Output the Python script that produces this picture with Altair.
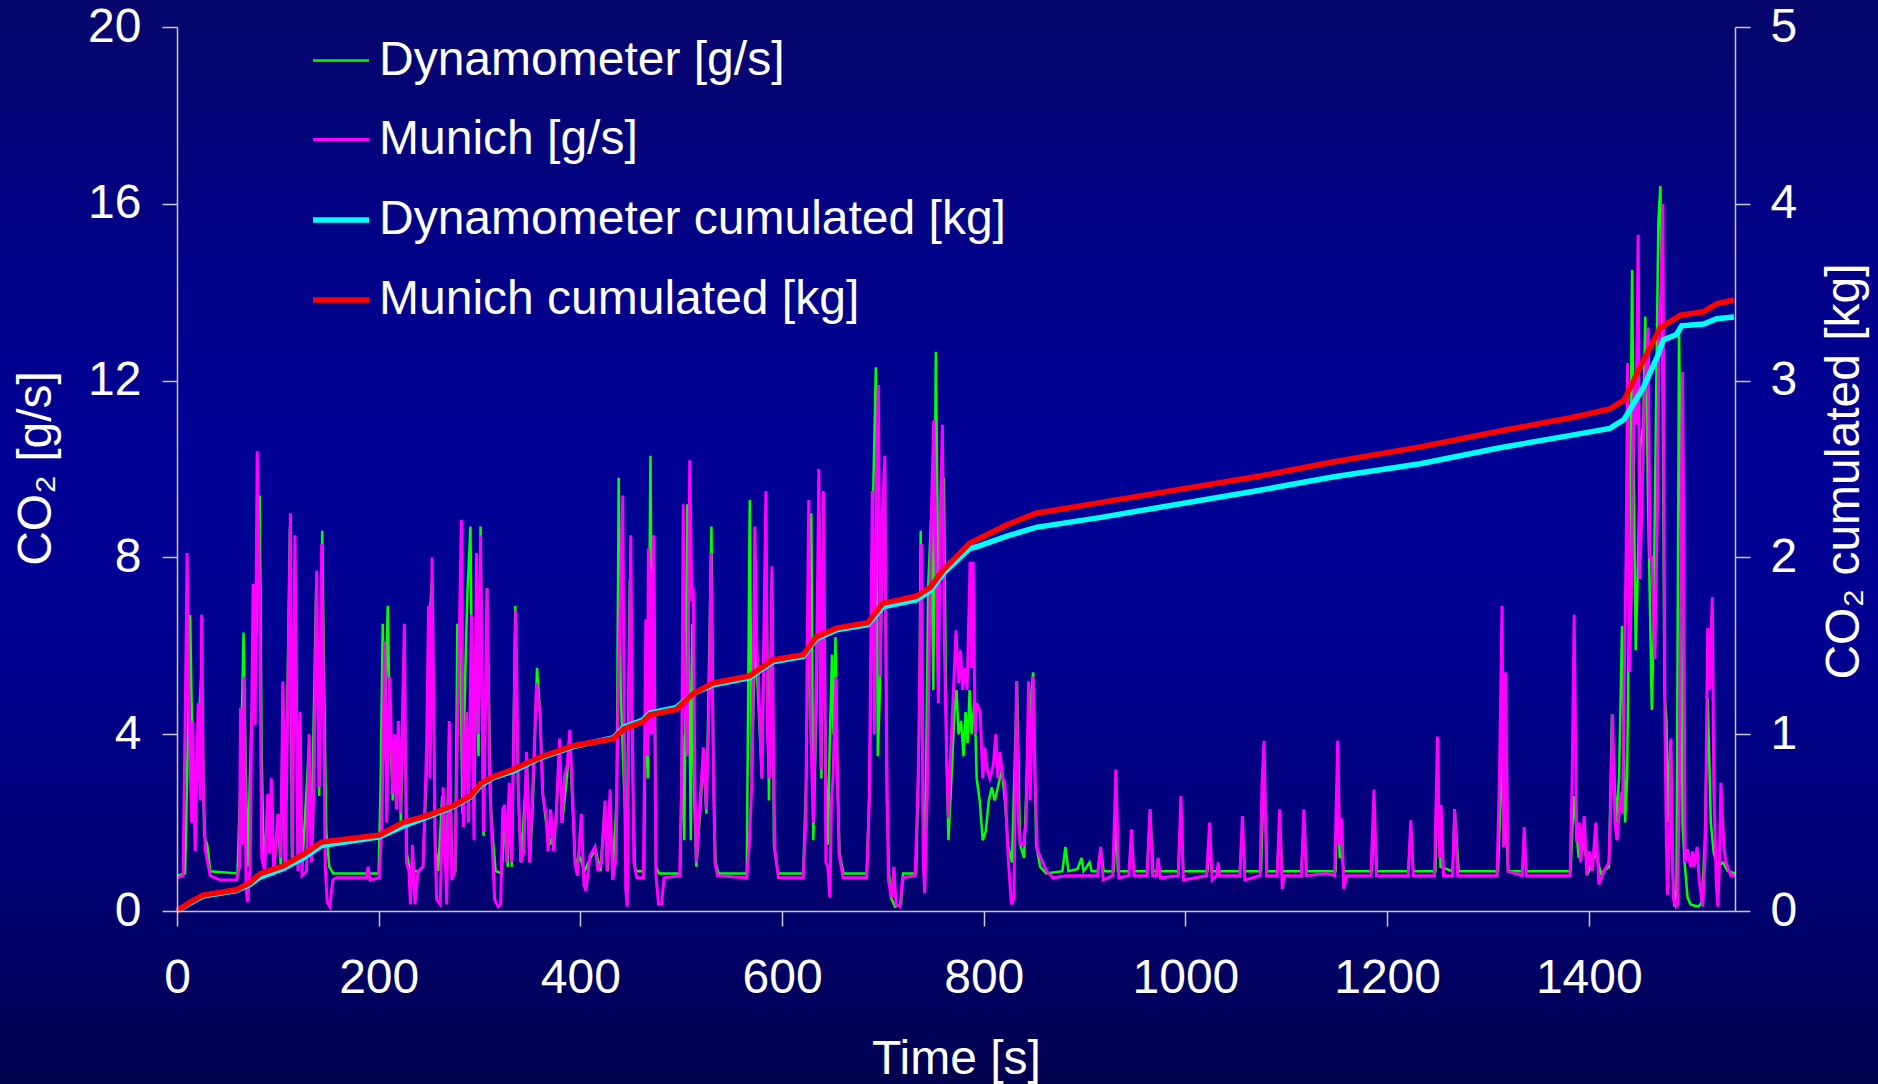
import altair as alt
import pandas as pd

# ---- axis settings -------------------------------------------------------
TIME_DOMAIN = [0, 1545]
TIME_TICKS = [0, 200, 400, 600, 800, 1000, 1200, 1400]
RATE_DOMAIN = [0, 20]
RATE_TICKS = [0, 4, 8, 12, 16, 20]
CUM_DOMAIN = [0, 5]
CUM_TICKS = [0, 1, 2, 3, 4, 5]

SERIES = [
    "Dynamometer [g/s]",
    "Munich [g/s]",
    "Dynamometer cumulated [kg]",
    "Munich cumulated [kg]",
]
COLORS = ["#00ff00", "#ff00ff", "#00ffff", "#ff0000"]
LINE_WIDTHS = [2.5, 3, 5.5, 5.5]

# ---- CO2 mass flow, (time [s], g/s) --------------------------------------
DYNO_RATE = [
    (0, 0.8), (8, 0.85), (10, 3.0), (13, 6.7), (15, 4.0), (17, 2.0), (20, 3.0), (22, 4.5),
    (24.5, 5.5), (27, 1.7), (30, 1.5), (33, 0.9), (60, 0.85), (63, 3.0), (66, 6.3), (68, 3.5),
    (70, 1.0), (74, 4.5), (77, 4.5), (82, 9.4), (84, 3.5), (86, 1.0), (90, 2.3), (92, 1.3),
    (94, 2.8), (96, 0.9), (100, 2.0), (103, 1.0), (105, 5.0), (107, 1.0), (112, 8.7), (114, 1.2),
    (117, 8.0), (120, 1.0), (122, 4.3), (124, 0.9), (131, 3.8), (133, 1.2), (138, 7.3), (141, 2.6),
    (144, 8.6), (146, 5.0), (148, 1.8), (151, 1.0), (155, 0.85), (200, 0.85), (202, 3.0), (204, 6.5),
    (206, 4.0), (209, 6.9), (211, 4.2), (214, 2.5), (216, 3.8), (218, 2.3), (220, 4.0), (222, 2.0),
    (225, 5.8), (228, 1.3), (231, 0.9), (240, 0.9), (244, 1.0), (248, 3.5), (250, 6.5), (253, 7.5),
    (256, 1.5), (259, 0.9), (263, 2.6), (267, 0.9), (270, 4.0), (273, 0.9), (276, 0.9), (278, 6.5),
    (281, 6.0), (283, 2.2), (286, 5.5), (288, 7.2), (291, 8.7), (293, 4.0), (296, 6.0), (299, 3.5),
    (301, 8.7), (304, 1.7), (307.5, 7.3), (311, 2.5), (313, 1.7), (316, 0.9), (322, 0.85), (325, 2.0),
    (328, 1.0), (330, 2.7), (332, 1.0), (335.5, 6.9), (338, 3.0), (341, 1.1), (347, 3.3), (350, 1.1),
    (353, 2.5), (357, 5.5), (360, 4.5), (363, 2.6), (366, 2.0), (370, 1.5), (376, 2.0), (379, 3.6),
    (382, 2.0), (387, 3.1), (389.5, 3.9), (392, 2.5), (395, 1.1), (400, 1.2), (404, 0.9), (410, 1.2),
    (415, 1.4), (420, 0.9), (424, 2.3), (427, 0.9), (429, 2.5), (432, 0.9), (436, 2.5), (438, 9.8),
    (440, 5.0), (443, 3.0), (446, 1.2), (449, 7.5), (452, 3.0), (454, 1.0), (456, 0.9), (463, 0.9),
    (465, 5.0), (467, 3.0), (469.5, 10.3), (471, 5.0), (473, 7.5), (475, 1.0), (478, 0.85), (499, 0.85),
    (501, 4.0), (503, 1.6), (506, 9.2), (508, 5.0), (509.5, 1.6), (511, 6.5), (513, 2.5), (515, 1.0),
    (519, 2.3), (522, 3.5), (525, 2.2), (530, 8.7), (532, 3.0), (534, 1.1), (537, 0.85), (565, 0.85),
    (568, 9.3), (570, 3.0), (573, 6.0), (576, 5.0), (580, 3.0), (584, 8.8), (587, 2.5), (590, 7.5),
    (592, 1.5), (596, 0.85), (621, 0.85), (624, 3.0), (627, 8.0), (629, 9.0), (631, 1.6), (634, 4.5),
    (637, 9.0), (639, 3.0), (641, 9.0), (643, 3.5), (645.5, 1.5), (647, 3.5), (649.5, 5.8), (651, 4.0),
    (653, 6.2), (655, 3.0), (657, 1.3), (661, 0.85), (684, 0.85), (687, 3.0), (690, 9.0), (693, 12.3),
    (695, 3.5), (697, 5.0), (700, 8.5), (702, 9.5), (704, 2.5), (706, 0.9), (708, 0.3), (712, 0.1),
    (718, 0.15), (720, 0.85), (733, 0.85), (736, 4.0), (737.5, 8.6), (740, 2.0), (742, 1.5), (745, 7.4),
    (748, 9.0), (750, 5.0), (752.5, 12.65), (755, 7.0), (758, 9.5), (760.5, 9.8), (763, 3.7), (765, 1.6),
    (768, 3.0), (771, 4.5), (773, 5.0), (775, 4.0), (777.5, 4.3), (780, 3.5), (782, 4.5), (784, 3.8),
    (786, 5.0), (788, 4.0), (791, 4.8), (793, 3.0), (796, 2.5), (799, 1.6), (802, 1.8), (805, 2.5),
    (808, 2.8), (811, 2.5), (814, 2.8), (818, 3.2), (821, 2.5), (824, 1.5), (828, 1.1), (833, 5.2),
    (836, 1.5), (840, 1.2), (844, 4.0), (849, 5.4), (852, 1.5), (856, 1.0), (862, 0.85), (878, 0.9),
    (881, 1.45), (884, 0.9), (893, 0.95), (897, 1.2), (899, 0.9), (905, 1.1), (907, 0.9), (913, 0.9),
    (916, 1.4), (919, 0.9), (929, 0.9), (931, 2.3), (933, 0.9), (944, 0.9), (946.5, 1.6), (949, 0.9),
    (962, 0.9), (965, 2.3), (968, 0.9), (993, 0.9), (995.5, 2.2), (998, 0.9), (1022, 0.9), (1024, 1.6),
    (1026, 0.9), (1054, 0.9), (1056.5, 1.8), (1059, 0.9), (1075, 0.9), (1078, 3.4), (1081, 0.9),
    (1091, 0.9), (1093.5, 2.0), (1096, 0.9), (1115, 0.9), (1117.5, 2.0), (1120, 0.9), (1149, 0.9),
    (1151, 3.4), (1153, 1.2), (1155, 1.3), (1157, 0.9), (1185, 0.9), (1187, 2.2), (1190, 0.9),
    (1221, 0.9), (1223.5, 1.8), (1226, 0.9), (1248, 0.9), (1250, 3.5), (1253, 1.0), (1265, 0.9),
    (1267, 2.3), (1271, 0.9), (1310, 0.9), (1314, 3.5), (1316, 1.5), (1318, 2.0), (1320, 0.9),
    (1334, 0.9), (1336, 1.5), (1338, 0.9), (1382, 0.9), (1385, 2.6), (1390, 1.2), (1395, 1.5),
    (1400, 0.9), (1407, 1.3), (1412, 0.85), (1420, 1.0), (1423, 4.45), (1427, 2.0), (1430, 3.0),
    (1433, 6.45), (1436, 2.0), (1438, 3.0), (1440, 7.0), (1443, 14.5), (1445, 9.0), (1446.5, 5.9),
    (1449, 8.0), (1451, 10.5), (1454, 11.0), (1456, 13.45), (1459, 9.0), (1462.5, 4.55), (1464, 6.0),
    (1467, 12.0), (1469, 15.6), (1471, 16.4), (1473, 13.0), (1475, 5.0), (1477, 4.3), (1479, 2.0),
    (1481, 3.85), (1483, 1.0), (1485, 0.1), (1487, 0.5), (1489.5, 13.2), (1491, 10.0), (1493, 2.0),
    (1495, 1.1), (1498, 0.3), (1501, 0.15), (1505, 0.12), (1509, 0.1), (1512, 0.2), (1515, 1.5),
    (1518, 4.8), (1521, 2.0), (1524, 1.3), (1528, 1.0), (1533, 1.1), (1538, 0.9), (1545, 0.85),
]

MUNICH_RATE = [
    (0, 0.75), (6, 0.8), (8.5, 5.0), (10, 8.1), (12, 4.5), (14.5, 2.0), (15.5, 4.3), (18, 1.35),
    (21, 4.7), (23, 2.5), (24.5, 6.7), (26, 3.0), (28, 1.4), (29.5, 1.2), (33, 0.8), (43, 0.7),
    (59, 0.7), (62, 1.0), (63, 4.6), (65, 1.5), (66.5, 5.3), (68.5, 0.5), (70, 0.2), (72.5, 1.0),
    (75.5, 7.4), (77.5, 4.2), (79.5, 10.4), (82, 7.0), (84, 1.2), (87, 0.9), (90, 2.65), (92, 1.3),
    (93.5, 3.0), (96, 0.8), (100, 2.2), (103, 1.2), (105, 5.2), (107.5, 0.9), (112.5, 9.0),
    (114.5, 1.1), (117, 8.5), (120, 0.9), (122, 4.5), (124, 0.8), (128.5, 0.9), (131, 4.0),
    (133.5, 1.1), (136, 3.0), (138.5, 7.7), (141, 2.8), (143.5, 8.3), (145, 5.5), (147, 1.0),
    (149, 0.2), (151.5, 0.1), (154.5, 0.7), (158, 0.75), (188, 0.75), (189.5, 1.0), (191.5, 0.7),
    (200.5, 0.75), (203, 1.8), (206, 6.1), (208, 2.0), (211, 5.3), (214, 2.65), (216, 4.0),
    (217.5, 2.3), (219.5, 4.3), (221.5, 2.2), (225.5, 6.5), (227.5, 1.1), (230, 0.9), (231.5, 0.15),
    (233.5, 1.5), (236, 0.15), (239, 0.9), (244, 1.0), (247.5, 3.7), (249.5, 6.9), (251, 3.0),
    (253, 8.0), (256, 1.5), (257.5, 0.26), (261, 0.15), (264, 2.8), (267.5, 0.15), (270, 4.3),
    (272.5, 0.7), (275.5, 0.9), (279, 5.0), (282, 8.85), (284, 1.9), (287, 4.5), (289, 2.0),
    (292, 6.7), (294.5, 1.6), (297, 8.1), (299, 4.0), (301, 8.5), (304, 1.8), (307.5, 7.3),
    (310, 3.0), (312, 1.8), (315, 0.26), (318.5, 0.1), (321, 0.15), (323, 2.3), (325, 2.4),
    (327, 1.1), (329.5, 2.9), (332, 1.1), (334, 4.0), (336, 6.8), (338.5, 2.75), (341, 1.1),
    (344, 1.35), (346.5, 3.6), (349.5, 1.1), (352.5, 2.65), (354.5, 3.8), (356.5, 5.15), (360, 4.5),
    (362.5, 2.65), (366, 2.2), (368, 1.35), (370.5, 2.3), (373.5, 1.35), (376, 2.2), (379.5, 3.9),
    (381.5, 2.0), (384.5, 3.1), (387, 3.3), (389.5, 4.1), (392.5, 2.5), (394.5, 1.1), (397, 0.8),
    (401, 2.2), (403.5, 0.6), (405.5, 0.45), (409.5, 1.25), (414.5, 1.45), (417.5, 0.9), (421, 1.1),
    (424.5, 2.5), (426.5, 0.9), (429.5, 2.75), (432, 0.7), (435.5, 1.2), (437.5, 5.0), (442, 9.4),
    (443.5, 4.0), (445, 0.5), (446.5, 0.1), (448, 4.0), (450, 8.5), (451.5, 4.5), (453, 1.1),
    (456, 0.75), (462.5, 0.75), (465, 6.6), (466.5, 3.5), (467.5, 8.2), (469, 7.5), (470.5, 4.0),
    (472.5, 8.5), (475, 0.8), (477.5, 0.15), (480.5, 0.15), (483, 0.75), (498.5, 0.8), (500.5, 3.0),
    (502, 9.2), (503.5, 5.0), (506, 3.5), (508.5, 10.2), (510.5, 7.0), (512, 7.3), (513.5, 3.0),
    (515, 1.1), (518.5, 2.4), (522, 3.7), (525, 2.3), (528, 5.0), (529.5, 8.1), (532, 3.0),
    (533.5, 1.1), (536, 0.8), (565, 0.75), (567.5, 1.5), (570, 2.9), (571.5, 5.5), (573, 8.7),
    (575, 6.0), (576.5, 5.3), (580, 3.0), (584, 9.5), (585.5, 4.0), (587.5, 3.0), (590, 7.8),
    (591.5, 3.5), (593, 1.35), (596.5, 0.75), (621, 0.75), (623.5, 2.0), (625, 6.0), (626.5, 9.3),
    (628.5, 4.0), (631, 2.0), (633.5, 4.8), (635, 7.0), (636.5, 10.0), (638.5, 3.2), (641, 9.5),
    (642.5, 5.0), (643.5, 1.1), (645.5, 1.0), (647.5, 0.3), (649, 2.5), (650.5, 3.0), (653.5, 5.3),
    (655, 3.0), (656.5, 1.3), (660.5, 0.75), (684, 0.75), (686.5, 2.5), (689.5, 9.5), (691.5, 4.0),
    (693.5, 10.0), (695.5, 11.9), (697.5, 5.3), (699.5, 9.0), (702, 10.3), (703.5, 4.0), (705.5, 0.7),
    (708.5, 0.3), (711, 1.0), (713, 0.15), (717, 0.1), (719.5, 0.75), (732, 0.8), (735, 3.0),
    (738.5, 8.3), (740, 1.1), (741.5, 0.4), (744, 2.65), (746, 6.0), (748.5, 9.4), (750.5, 11.1),
    (752.5, 8.0), (755, 4.7), (757, 9.0), (759, 11.0), (761, 6.0), (763, 3.7), (765, 2.1), (767, 3.5),
    (770, 5.0), (772.5, 6.35), (775, 5.15), (777, 5.9), (779, 5.0), (781.5, 5.5), (783.5, 5.0),
    (786.5, 7.9), (788, 5.5), (789.5, 7.9), (791.5, 4.0), (793, 4.7), (796.5, 4.5), (799, 3.0),
    (801, 3.7), (803.5, 3.2), (806, 3.0), (809.5, 3.3), (812, 4.0), (814, 3.0), (816, 3.6), (819, 3.0),
    (821, 2.9), (824.5, 1.1), (827.5, 0.15), (830, 0.3), (832.5, 5.2), (834.5, 2.0), (836.5, 1.5),
    (839.5, 1.5), (842, 2.0), (844.5, 5.2), (846, 2.5), (849, 5.3), (851, 3.0), (853, 1.4),
    (856.5, 1.2), (862.5, 0.9), (869, 0.75), (882, 0.8), (913, 0.8), (916, 1.45), (918.5, 0.7),
    (928, 0.8), (931, 3.2), (934, 0.75), (944, 0.8), (946.5, 1.85), (949, 0.8), (962, 0.8),
    (965, 2.3), (967.5, 0.8), (971, 0.8), (973, 1.2), (975, 0.75), (993, 0.8), (995.5, 2.6),
    (998, 0.7), (1021, 0.8), (1024, 2.0), (1026.5, 0.7), (1031, 0.8), (1032.5, 1.1), (1034, 0.8),
    (1054, 0.8), (1056.5, 2.15), (1059, 0.7), (1074, 0.8), (1076, 2.9), (1078, 3.85), (1080.5, 0.8),
    (1091, 0.8), (1093.5, 2.3), (1096, 0.5), (1098, 0.8), (1115, 0.8), (1117.5, 2.3), (1120, 0.8),
    (1140, 0.85), (1148, 0.8), (1151, 3.85), (1153, 1.5), (1155, 2.1), (1157, 0.5), (1160, 0.8),
    (1184, 0.8), (1187, 2.75), (1189.5, 0.8), (1221, 0.8), (1223.5, 2.05), (1226, 0.8), (1247, 0.8),
    (1250, 3.95), (1252, 1.2), (1253.5, 2.4), (1256, 0.8), (1265, 0.8), (1267, 2.3), (1270, 0.8),
    (1309, 0.8), (1311.5, 3.1), (1314, 6.9), (1315.5, 1.45), (1317.5, 5.4), (1320, 0.9), (1334, 0.8),
    (1336, 1.9), (1338, 0.8), (1381.5, 0.8), (1383.5, 3.0), (1385.5, 6.7), (1388, 1.55),
    (1390.5, 2.0), (1392, 1.1), (1395.5, 2.15), (1398, 0.8), (1400.5, 1.35), (1403.5, 0.9),
    (1407, 2.0), (1410, 0.6), (1415, 0.9), (1420, 1.1), (1422, 2.5), (1423.5, 4.45), (1426, 2.0),
    (1428, 1.6), (1430, 2.2), (1432, 2.7), (1433.5, 2.2), (1435, 5.0), (1437, 8.0), (1438.5, 12.4),
    (1440.5, 5.4), (1442.5, 7.5), (1445, 12.0), (1447, 11.0), (1449, 15.3), (1450.5, 7.5),
    (1452.5, 9.0), (1455, 11.5), (1459, 13.2), (1460.5, 8.0), (1462.5, 8.0), (1464.5, 6.5),
    (1465.5, 5.7), (1468, 9.0), (1470, 13.5), (1471.5, 14.0), (1473.5, 16.0), (1474.5, 10.0),
    (1475.5, 4.3), (1477, 1.5), (1478, 0.37), (1480, 1.5), (1481.5, 3.9), (1483, 1.3), (1484, 0.26),
    (1486.5, 0.1), (1488, 0.15), (1490, 3.0), (1492, 10.0), (1493, 12.2), (1494, 9.0), (1495.5, 1.1),
    (1498, 1.4), (1501, 1.0), (1503, 1.35), (1504.5, 1.0), (1507.5, 1.45), (1509.5, 0.7),
    (1513, 0.1), (1515.5, 1.35), (1517, 4.5), (1518, 6.4), (1519.5, 5.0), (1522.5, 7.1), (1524, 2.8),
    (1526.5, 0.6), (1528, 0.1), (1529.5, 1.0), (1531, 2.9), (1534, 1.45), (1536, 1.1), (1541, 0.8),
    (1545, 0.8),
]

# ---- cumulated CO2, (time [s], kg) ---------------------------------------
DYNO_CUM = [
    (0, 0.0), (13, 0.045), (26, 0.085), (59, 0.115), (72.5, 0.15), (82, 0.19), (105.5, 0.24),
    (125.5, 0.30), (143.5, 0.37), (201, 0.42), (224, 0.48), (248, 0.53), (274, 0.59), (291, 0.645),
    (301, 0.71), (314, 0.755), (333, 0.79), (360, 0.865), (393, 0.93), (433, 0.98), (443, 1.04),
    (462, 1.08), (469, 1.12), (495, 1.15), (512, 1.23), (532, 1.28), (568, 1.32), (578, 1.36),
    (591, 1.41), (621, 1.44), (634, 1.54), (654, 1.59), (685, 1.62), (700, 1.72), (733, 1.76),
    (747, 1.81), (760, 1.91), (786, 2.05), (793, 2.06), (823, 2.12), (852, 2.17), (915, 2.225),
    (1074, 2.38), (1146, 2.455), (1233, 2.53), (1312, 2.62), (1382, 2.69), (1421, 2.73),
    (1435, 2.78), (1454, 2.96), (1468, 3.135), (1474, 3.23), (1487, 3.26), (1492, 3.31),
    (1514, 3.32), (1527, 3.35), (1544, 3.36),
]

MUNICH_CUM = [
    (0, 0.0), (13, 0.05), (26, 0.09), (59, 0.12), (72.5, 0.16), (82, 0.21), (105.5, 0.255),
    (125.5, 0.32), (143.5, 0.39), (201, 0.43), (224, 0.50), (248, 0.54), (274, 0.595), (291, 0.65),
    (301, 0.72), (314, 0.76), (333, 0.80), (360, 0.87), (393, 0.935), (433, 0.975), (443, 1.03),
    (462, 1.07), (469, 1.11), (495, 1.14), (512, 1.23), (532, 1.29), (568, 1.33), (578, 1.37),
    (591, 1.42), (621, 1.45), (634, 1.55), (654, 1.60), (685, 1.63), (700, 1.74), (733, 1.78),
    (747, 1.83), (760, 1.93), (786, 2.08), (793, 2.10), (823, 2.185), (852, 2.25), (915, 2.31),
    (1074, 2.46), (1146, 2.54), (1233, 2.625), (1312, 2.715), (1382, 2.79), (1421, 2.84),
    (1435, 2.89), (1454, 3.11), (1471, 3.30), (1491, 3.37), (1514, 3.39), (1527, 3.435),
    (1544, 3.456),
]

# ---- styling --------------------------------------------------------------
FONT = "Liberation Sans"
W, H = 1558, 884
PAD = {"left": 177, "top": 27, "right": 143, "bottom": 173}
AXIS_GREY = "#c8c8dc"

background_fill = alt.LinearGradient(
    gradient="linear",
    x1=0, x2=0, y1=0, y2=1,
    stops=[
        alt.GradientStop(offset=0.0, color="#06066b"),
        alt.GradientStop(offset=0.2, color="#020284"),
        alt.GradientStop(offset=0.42, color="#000095"),
        alt.GradientStop(offset=0.6, color="#000090"),
        alt.GradientStop(offset=0.8, color="#000075"),
        alt.GradientStop(offset=1.0, color="#00004e"),
    ],
)

axis_common = dict(
    grid=False,
    zindex=1,
    domainColor=AXIS_GREY,
    domainWidth=1.5,
    tickColor=AXIS_GREY,
    tickWidth=1.5,
    tickSize=15,
    labelFont=FONT,
    labelFontSize=48,
    labelColor="white",
    labelOverlap=False,
    labelFlush=False,
    titleFont=FONT,
    titleFontSize=48,
    titleFontWeight="normal",
    titleColor="white",
)

x_axis = alt.Axis(
    values=TIME_TICKS, format="d", title="Time [s]", labelPadding=28,
    titleX=W / 2, titleY=162, titleAlign="center", titleBaseline="alphabetic",
    **axis_common,
)
left_axis = alt.Axis(
    values=RATE_TICKS, format="d", title="CO₂ [g/s]", orient="left", labelPadding=21,
    titleAngle=270, titleX=-127, titleY=441, titleAlign="center", titleBaseline="alphabetic",
    **axis_common,
)
right_axis = alt.Axis(
    values=CUM_TICKS, format="d", title="CO₂ cumulated [kg]", orient="right", labelPadding=20,
    titleAngle=270, titleX=123, titleY=444, titleAlign="center", titleBaseline="alphabetic",
    **axis_common,
)

legend = alt.Legend(
    title=None,
    orient="none",
    legendX=133,
    legendY=4,
    direction="vertical",
    symbolType="stroke",
    symbolSize=3136,
    labelFont=FONT,
    labelFontSize=48,
    labelColor="white",
    labelOffset=7,
    labelLimit=1200,
    rowPadding=25,
    padding=0,
    zindex=1,
)

color = alt.Color("series:N", scale=alt.Scale(domain=SERIES, range=COLORS), legend=legend)
width = alt.StrokeWidth(
    "series:N",
    scale=alt.Scale(type="ordinal", domain=SERIES, range=LINE_WIDTHS),
    legend=legend,
)
x_enc = alt.X("t:Q", scale=alt.Scale(domain=TIME_DOMAIN, nice=False), axis=x_axis)


def frame(pairs, name, col):
    df = pd.DataFrame(pairs, columns=["t", col])
    df["series"] = name
    return df


def rate_line(df):
    return alt.Chart(df).mark_line().encode(
        x=x_enc,
        y=alt.Y("v:Q", scale=alt.Scale(domain=RATE_DOMAIN, nice=False), axis=left_axis),
        color=color,
        strokeWidth=width,
    )


def cum_line(df):
    return alt.Chart(df).mark_line().encode(
        x=x_enc,
        y=alt.Y("kg:Q", scale=alt.Scale(domain=CUM_DOMAIN, nice=False), axis=right_axis),
        color=color,
        strokeWidth=width,
    )


backdrop = alt.Chart(alt.Data(values=[{"k": 0}])).mark_rect(fill=background_fill).encode(
    x=alt.value(-PAD["left"]),
    x2=alt.value(W + PAD["right"]),
    y=alt.value(-PAD["top"]),
    y2=alt.value(H + PAD["bottom"]),
)

rates = alt.layer(
    rate_line(frame(DYNO_RATE, SERIES[0], "v")),
    rate_line(frame(MUNICH_RATE, SERIES[1], "v")),
)
cumulated = alt.layer(
    cum_line(frame(DYNO_CUM, SERIES[2], "kg")),
    cum_line(frame(MUNICH_CUM, SERIES[3], "kg")),
)

chart = (
    alt.layer(backdrop, rates, cumulated)
    .resolve_scale(y="independent")
    .properties(
        width=W,
        height=H,
        padding=PAD,
        autosize=alt.AutoSizeParams(type="none"),
        background="#000080",
    )
    .configure_view(strokeWidth=0)
)

chart.save("out.html", embed_options={"renderer": "svg", "actions": False})
